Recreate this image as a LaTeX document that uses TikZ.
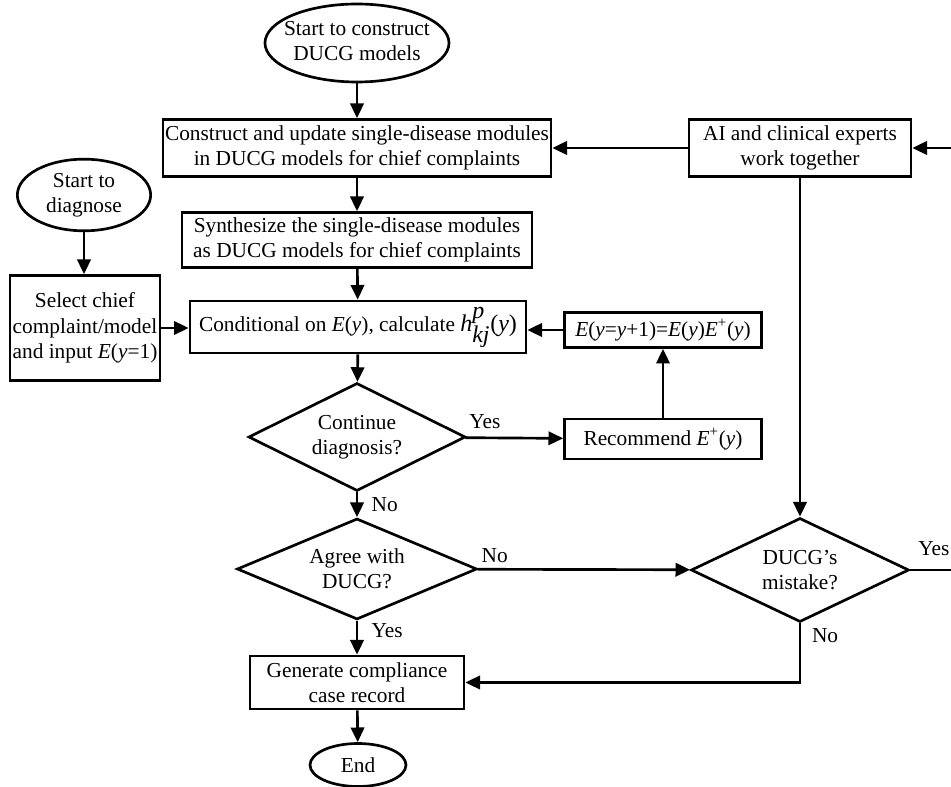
\documentclass[tikz,border=0pt]{standalone}
\usepackage{fontspec}
\setmainfont{Liberation Serif}
\usetikzlibrary{shapes.geometric,arrows.meta}

\begin{document}
\begin{tikzpicture}[x=0.75pt,y=-0.75pt,line width=2pt,
	font=\fontsize{16}{19}\selectfont,
	>={Triangle[length=11pt,width=10pt]},
	box/.style={draw,rectangle,align=center,inner sep=1pt},
	term/.style={draw,ellipse,align=center,inner sep=0pt},
	test/.style={draw,diamond,align=center,inner sep=0pt,shape aspect=2},
	lbl/.style={inner sep=2pt}]

	\useasboundingbox (0,0) rectangle (951,787);

	% model construction
	\node[term,minimum width=138pt,minimum height=58.5pt] (startc) at (357,43) {\makebox[0pt]{\begin{tabular}{@{}c@{}}Start to construct\\DUCG models\end{tabular}}};
	\node[box,minimum width=291pt,minimum height=42.75pt] (upd) at (357,148) {Construct and update single-disease modules\\in DUCG models for chief complaints};
	\node[box,minimum width=166.5pt,minimum height=42.75pt] (ai) at (800,148) {AI and clinical experts\\work together};
	\node[box,minimum width=262.5pt,minimum height=41.25pt] (syn) at (357,240) {Synthesize the single-disease modules\\as DUCG models for chief complaints};

	% diagnosis
	\node[term,minimum width=100pt,minimum height=52.5pt] (startd) at (84,195) {\makebox[0pt]{\begin{tabular}{@{}c@{}}Start to\\diagnose\end{tabular}}};
	\node[box,minimum width=112.5pt,minimum height=78.75pt] (sel) at (85,328) {Select chief\\complaint/model\\and input \textit{E}(\textit{y}=1)};
	\node[box,minimum width=252pt,minimum height=39pt] (cond) at (358,327) {Conditional on \textit{E}(\textit{y}), calculate {\fontsize{18}{18}\selectfont\textit{h}$^{\textit{p}}_{\textit{kj}}$(\textit{y})}};
	\node[box,minimum width=147.75pt,minimum height=26.25pt] (upe) at (663,330) {\textit{E}(\textit{y}=\textit{y}+1)=\textit{E}(\textit{y})\textit{E}\textsuperscript{+}(\textit{y})};
	\node[box,minimum width=147.75pt,minimum height=30pt] (rec) at (663,439) {Recommend \textit{E}\textsuperscript{+}(\textit{y})};

	% decisions
	\node[test,minimum width=162.75pt,minimum height=81pt] (cont) at (357,437) {Continue\\diagnosis?};
	\node[test,minimum width=180pt,minimum height=75.75pt] (agree) at (357,569) {Agree with\\DUCG?};
	\node[test,minimum width=163.5pt,minimum height=78pt] (mist) at (800,570) {DUCG’s\\mistake?};

	% end
	\node[box,minimum width=160.5pt,minimum height=39.75pt] (gen) at (357,682.5) {Generate compliance\\case record};
	\node[term,minimum width=72pt,minimum height=32.25pt] (endn) at (358,765) {End};

	% arrows
	\draw[->] (startc) -- (upd);
	\draw[->] (ai) -- (upd);
	\draw[->] (upd) -- (syn);
	\draw[->] (syn) -- (cond);
	\draw[->] (startd.south) -- (startd.south |- sel.north);
	\draw[->] (sel.east) -- (sel.east -| cond.west);
	\draw[->] (upe.west) -- (upe.west -| cond.east);
	\draw[->] (cond) -- (cont);
	\draw[->] (cont) -- node[lbl,pos=0,above right,yshift=4pt] {Yes} (rec);
	\draw[->] (rec) -- (upe);
	\draw[->] (cont) -- node[lbl,midway,right,xshift=8pt] {No} (agree);
	\draw[->] (agree) -- node[lbl,pos=0,above right,yshift=2pt] {No} (mist);
	\draw[->] (agree) -- node[lbl,pos=0.3,right,xshift=8pt] {Yes} (gen);
	\draw[->] (ai) -- (mist);
	\draw[->] (mist.east) -- node[lbl,pos=0,above right,xshift=3pt,yshift=8pt] {Yes} ++(60,0) |- (ai.east);
	\draw[->] (mist.south) |- node[lbl,pos=0.1,right,xshift=6pt] {No} (gen.east);
	\draw[->] (gen) -- (endn);
\end{tikzpicture}
\end{document}
